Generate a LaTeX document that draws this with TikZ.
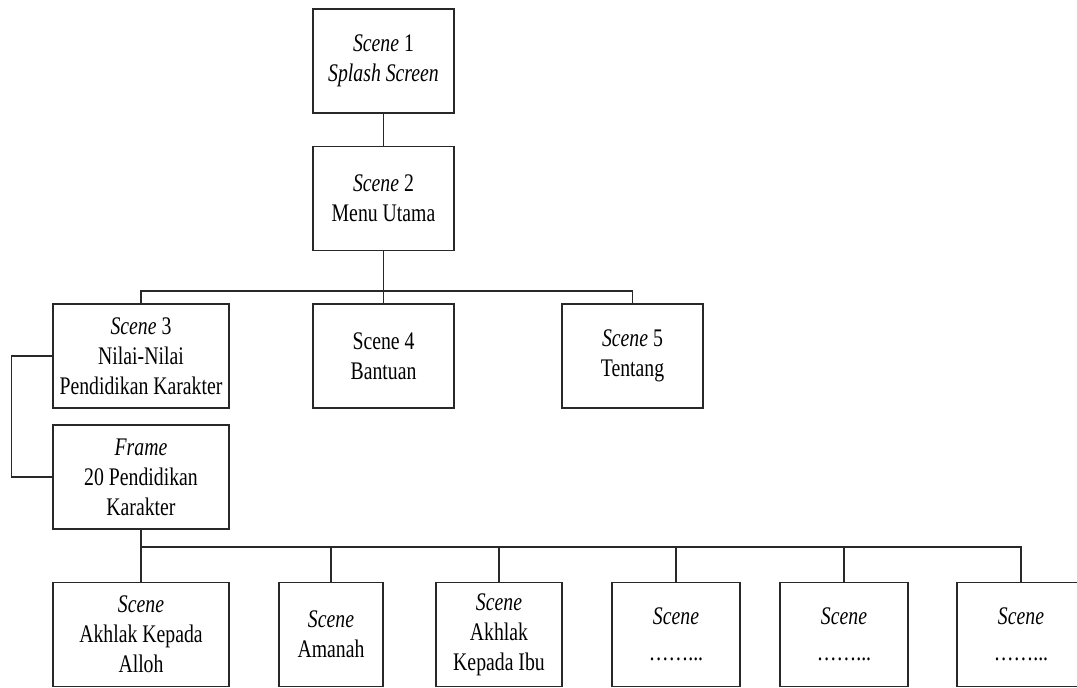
\documentclass[tikz,border=0pt]{standalone}
\usepackage{fontspec}
\usepackage{tikz}
\usetikzlibrary{positioning, calc}
\newfontfamily\diagfont[FakeStretch=0.78]{Liberation Serif}
\definecolor{linegray}{RGB}{40,40,40}
\tikzset{
  scenebox/.style={
    rectangle, draw=linegray, line width=0.9pt, fill=white,
    minimum height=2.6cm, inner sep=2pt, align=center,
    font=\diagfont\fontsize{18}{21.3}\selectfont
  },
  narrow/.style={scenebox, minimum width=3.525cm},
  wide/.style={scenebox, minimum width=4.4cm},
  link/.style={draw=linegray, line width=0.9pt},
}
\begin{document}
\begin{tikzpicture}[x=0.025cm, y=-0.025cm]
  \useasboundingbox (0,0) rectangle (1077,688);

  \node[narrow] (S1) at (383.5,61) {\textit{Scene} 1\\\textit{Splash Screen}};
  \node[narrow] (S2) at (383.5,198.5) {\textit{Scene} 2\\Menu Utama};
  \node[wide] (S3) at (141,356) {\textit{Scene} 3\\Nilai-Nilai\\Pendidikan Karakter};
  \node[narrow] (S4) at (383.5,356) {Scene 4\\Bantuan};
  \node[narrow] (S5) at (632.5,356) {\textit{Scene} 5\\Tentang};
  \node[wide] (F) at (141,477) {\textit{Frame}\\20 Pendidikan\\Karakter};

  \node[wide] (B1) at (141,634.5) {\textit{Scene}\\Akhlak Kepada\\Alloh};
  \node[scenebox, minimum width=2.6cm] (B2) at (331,634.5) {\textit{Scene}\\Amanah};
  \node[scenebox, minimum width=3.15cm] (B3) at (499,634.5) {\textit{Scene}\\Akhlak\\Kepada Ibu};
  \node[scenebox, minimum width=3.2cm] (B4) at (676,634.5) {\textit{Scene}\\[4pt]……...};
  \node[scenebox, minimum width=3.2cm] (B5) at (844,634.5) {\textit{Scene}\\[4pt]……...};
  \node[scenebox, minimum width=3.2cm] (B6) at (1021,634.5) {\textit{Scene}\\[4pt]……...};

  \coordinate (J1) at (383.5,291);
  \coordinate (J2) at (141,547);

  \draw[link] (S1) -- (S2);
  \draw[link] (S2) -- (J1);
  \draw[link] (J1) -| (S3.north);
  \draw[link] (J1) -| (S5.north);
  \draw[link] (J1) -- (S4);
  \draw[link] (S3.west) -- ++(-41,0) |- (F.west);
  \draw[link] (F) -- (J2);
  \foreach \b in {B1,B2,B3,B4,B5,B6}
    \draw[link] (J2) -| (\b.north);
\end{tikzpicture}
\end{document}
